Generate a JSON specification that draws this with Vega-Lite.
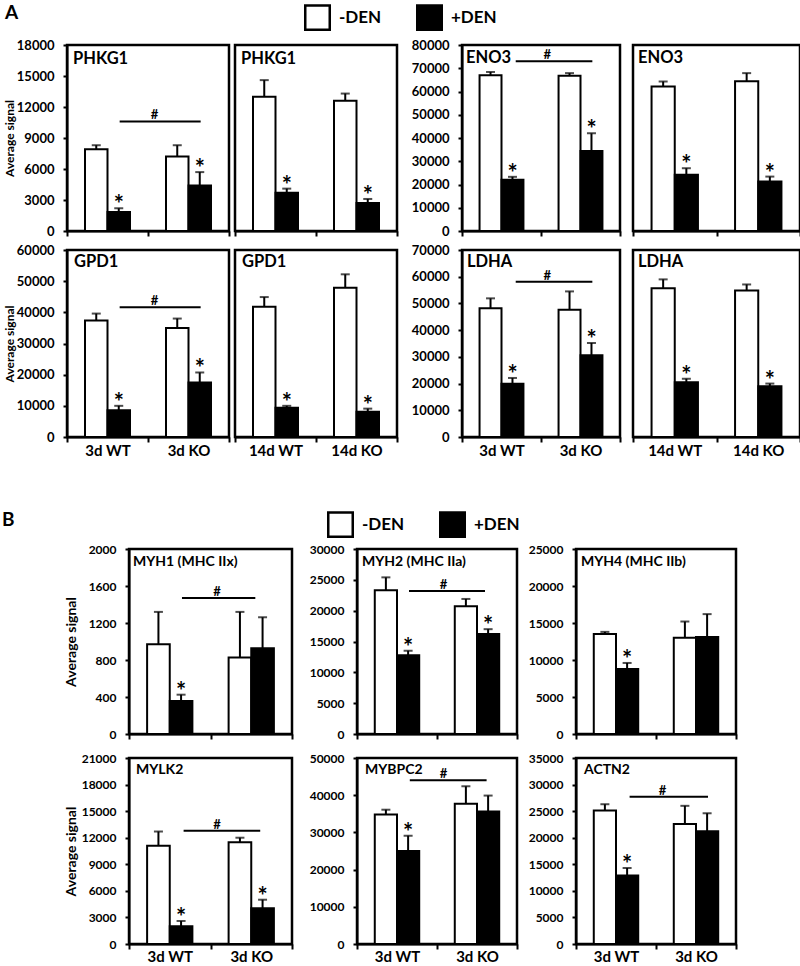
{
"$schema": "https://vega.github.io/schema/vega-lite/v6.json",
"padding": {"left": 2, "top": 2, "right": 0, "bottom": 0},
"background": "white",
"config": {
 "font": "Lato",
 "view": {"stroke": "black", "strokeWidth": 2.5},
 "axis": {"domainColor":"black","domainWidth":2,"tickColor":"black","tickWidth":2,"labelColor":"black","labelFontWeight":"bold","labelFont":"Lato","titleFont":"Lato","titleColor":"black","titleFontWeight":"bold","grid":false,"labelOverlap":false},
 "axisX": {"tickBand":"extent","labelAngle":0,"labelFontSize":15,"tickSize":5},
 "axisY": {"labelFontSize":13,"labelPadding":9,"tickSize":4,"labelOverlap":false},
 "legend": {"symbolType":"square","symbolSize":600,"symbolStrokeColor":"black","symbolStrokeWidth":2.5,"labelFont":"Lato","labelFontSize":17,"labelFontWeight":"bold","labelColor":"black","labelOffset":8,"columnPadding":30},
 "title": {"font":"Lato","fontSize":19,"fontWeight":"bold","color":"black"},
 "text": {"color":"black","font":"Lato"},
 "rule": {"color":"black"},
 "tick": {"color":"black"}
},
"datasets": {
"bars": [
{"p":"PHKG1_3d","g":"3d WT","d":"-DEN","m":7900,"hi":8300,"s":""},
{"p":"PHKG1_3d","g":"3d WT","d":"+DEN","m":1850,"hi":2200,"s":"*"},
{"p":"PHKG1_3d","g":"3d KO","d":"-DEN","m":7200,"hi":8300,"s":""},
{"p":"PHKG1_3d","g":"3d KO","d":"+DEN","m":4400,"hi":5700,"s":"*"},
{"p":"PHKG1_14d","g":"14d WT","d":"-DEN","m":13000,"hi":14600,"s":""},
{"p":"PHKG1_14d","g":"14d WT","d":"+DEN","m":3700,"hi":4100,"s":"*"},
{"p":"PHKG1_14d","g":"14d KO","d":"-DEN","m":12600,"hi":13300,"s":""},
{"p":"PHKG1_14d","g":"14d KO","d":"+DEN","m":2700,"hi":3100,"s":"*"},
{"p":"ENO3_3d","g":"3d WT","d":"-DEN","m":67000,"hi":68400,"s":""},
{"p":"ENO3_3d","g":"3d WT","d":"+DEN","m":22000,"hi":23300,"s":"*"},
{"p":"ENO3_3d","g":"3d KO","d":"-DEN","m":66800,"hi":67900,"s":""},
{"p":"ENO3_3d","g":"3d KO","d":"+DEN","m":34400,"hi":42000,"s":"*"},
{"p":"ENO3_14d","g":"14d WT","d":"-DEN","m":62100,"hi":64300,"s":""},
{"p":"ENO3_14d","g":"14d WT","d":"+DEN","m":24200,"hi":27000,"s":"*"},
{"p":"ENO3_14d","g":"14d KO","d":"-DEN","m":64400,"hi":67900,"s":""},
{"p":"ENO3_14d","g":"14d KO","d":"+DEN","m":21300,"hi":23400,"s":"*"},
{"p":"GPD1_3d","g":"3d WT","d":"-DEN","m":37400,"hi":39600,"s":""},
{"p":"GPD1_3d","g":"3d WT","d":"+DEN","m":8600,"hi":10000,"s":"*"},
{"p":"GPD1_3d","g":"3d KO","d":"-DEN","m":35000,"hi":38000,"s":""},
{"p":"GPD1_3d","g":"3d KO","d":"+DEN","m":17500,"hi":20700,"s":"*"},
{"p":"GPD1_14d","g":"14d WT","d":"-DEN","m":41800,"hi":44900,"s":""},
{"p":"GPD1_14d","g":"14d WT","d":"+DEN","m":9400,"hi":10000,"s":"*"},
{"p":"GPD1_14d","g":"14d KO","d":"-DEN","m":47900,"hi":52200,"s":""},
{"p":"GPD1_14d","g":"14d KO","d":"+DEN","m":8100,"hi":9100,"s":"*"},
{"p":"LDHA_3d","g":"3d WT","d":"-DEN","m":48200,"hi":51900,"s":""},
{"p":"LDHA_3d","g":"3d WT","d":"+DEN","m":19900,"hi":22100,"s":"*"},
{"p":"LDHA_3d","g":"3d KO","d":"-DEN","m":47600,"hi":54500,"s":""},
{"p":"LDHA_3d","g":"3d KO","d":"+DEN","m":30600,"hi":35200,"s":"*"},
{"p":"LDHA_14d","g":"14d WT","d":"-DEN","m":55700,"hi":59000,"s":""},
{"p":"LDHA_14d","g":"14d WT","d":"+DEN","m":20500,"hi":21800,"s":"*"},
{"p":"LDHA_14d","g":"14d KO","d":"-DEN","m":54800,"hi":57100,"s":""},
{"p":"LDHA_14d","g":"14d KO","d":"+DEN","m":19000,"hi":20000,"s":"*"},
{"p":"MYH1","g":"3d WT","d":"-DEN","m":970,"hi":1320,"s":""},
{"p":"MYH1","g":"3d WT","d":"+DEN","m":357,"hi":425,"s":"*"},
{"p":"MYH1","g":"3d KO","d":"-DEN","m":826,"hi":1320,"s":""},
{"p":"MYH1","g":"3d KO","d":"+DEN","m":927,"hi":1262,"s":""},
{"p":"MYH2","g":"3d WT","d":"-DEN","m":23300,"hi":25400,"s":""},
{"p":"MYH2","g":"3d WT","d":"+DEN","m":12760,"hi":13500,"s":"*"},
{"p":"MYH2","g":"3d KO","d":"-DEN","m":20700,"hi":21900,"s":""},
{"p":"MYH2","g":"3d KO","d":"+DEN","m":16200,"hi":17000,"s":"*"},
{"p":"MYH4","g":"3d WT","d":"-DEN","m":13500,"hi":13800,"s":""},
{"p":"MYH4","g":"3d WT","d":"+DEN","m":8770,"hi":9600,"s":"*"},
{"p":"MYH4","g":"3d KO","d":"-DEN","m":13000,"hi":15200,"s":""},
{"p":"MYH4","g":"3d KO","d":"+DEN","m":13100,"hi":16200,"s":""},
{"p":"MYLK2","g":"3d WT","d":"-DEN","m":11100,"hi":12700,"s":""},
{"p":"MYLK2","g":"3d WT","d":"+DEN","m":2000,"hi":2600,"s":"*"},
{"p":"MYLK2","g":"3d KO","d":"-DEN","m":11500,"hi":12000,"s":""},
{"p":"MYLK2","g":"3d KO","d":"+DEN","m":4050,"hi":5000,"s":"*"},
{"p":"MYBPC2","g":"3d WT","d":"-DEN","m":34800,"hi":36100,"s":""},
{"p":"MYBPC2","g":"3d WT","d":"+DEN","m":25000,"hi":29100,"s":"*"},
{"p":"MYBPC2","g":"3d KO","d":"-DEN","m":37700,"hi":42400,"s":""},
{"p":"MYBPC2","g":"3d KO","d":"+DEN","m":35600,"hi":39900,"s":""},
{"p":"ACTN2","g":"3d WT","d":"-DEN","m":25100,"hi":26300,"s":""},
{"p":"ACTN2","g":"3d WT","d":"+DEN","m":12900,"hi":14300,"s":"*"},
{"p":"ACTN2","g":"3d KO","d":"-DEN","m":22600,"hi":26000,"s":""},
{"p":"ACTN2","g":"3d KO","d":"+DEN","m":21200,"hi":24600,"s":""}
],
"hash": [
{"p":"PHKG1_3d","g":"3d WT","g2":"3d KO","m":10600},
{"p":"ENO3_3d","g":"3d WT","g2":"3d KO","m":73000},
{"p":"GPD1_3d","g":"3d WT","g2":"3d KO","m":41600},
{"p":"LDHA_3d","g":"3d WT","g2":"3d KO","m":58100},
{"p":"MYH1","g":"3d WT","g2":"3d KO","m":1470},
{"p":"MYH2","g":"3d WT","g2":"3d KO","m":23200},
{"p":"MYLK2","g":"3d WT","g2":"3d KO","m":12800},
{"p":"MYBPC2","g":"3d WT","g2":"3d KO","m":44000},
{"p":"ACTN2","g":"3d WT","g2":"3d KO","m":27700}
],
"labels": [
{"p":"PHKG1_3d","g":"3d WT","m":18000,"name":"PHKG1"},
{"p":"PHKG1_14d","g":"14d WT","m":18000,"name":"PHKG1"},
{"p":"ENO3_3d","g":"3d WT","m":80000,"name":"ENO3"},
{"p":"ENO3_14d","g":"14d WT","m":80000,"name":"ENO3"},
{"p":"GPD1_3d","g":"3d WT","m":60000,"name":"GPD1"},
{"p":"GPD1_14d","g":"14d WT","m":60000,"name":"GPD1"},
{"p":"LDHA_3d","g":"3d WT","m":70000,"name":"LDHA"},
{"p":"LDHA_14d","g":"14d WT","m":70000,"name":"LDHA"},
{"p":"MYH1","g":"3d WT","m":2000,"name":"MYH1 (MHC IIx)"},
{"p":"MYH2","g":"3d WT","m":30000,"name":"MYH2 (MHC IIa)"},
{"p":"MYH4","g":"3d WT","m":25000,"name":"MYH4 (MHC IIb)"},
{"p":"MYLK2","g":"3d WT","m":21000,"name":"MYLK2"},
{"p":"MYBPC2","g":"3d WT","m":50000,"name":"MYBPC2"},
{"p":"ACTN2","g":"3d WT","m":35000,"name":"ACTN2"}
]
},
"spacing": 49,
"resolve": {"scale": {"fill": "independent", "xOffset": "independent"}},
"vconcat": [
{
"title": {"text": "A", "anchor": "start", "frame": "group", "dx": -62, "offset": -20},
"spacing": 2,
"resolve": {"scale": {"fill": "independent", "xOffset": "independent"}},
"vconcat": [
{
"spacing": 6, "bounds": "flush",
"resolve": {"scale": {"fill": "independent", "xOffset": "independent"}},
"hconcat": [
{
 "width": 162, "height": 186,
 "layer": [
  {"data":{"name":"bars"},"transform":[{"filter":"datum.p=='PHKG1_3d'"}],"mark":{"type":"bar","stroke":"black","strokeWidth":2},"encoding":{"x":{"field":"g","type":"nominal","scale":{"domain":["3d WT","3d KO"],"paddingInner":0,"paddingOuter":0},"axis":{"title":null,"labels":false}},"xOffset":{"field":"d","type":"nominal","scale":{"domain":["-DEN","+DEN"],"paddingInner":0,"paddingOuter":0.8}},"y":{"field":"m","type":"quantitative","scale":{"domain":[0,18000],"nice":false},"axis":{"title":"Average signal","titleFontSize":12,"titlePadding":0,"labelOverlap":false,"tickCount":20,"values":[0,3000,6000,9000,12000,15000,18000],"format":"d"}},"fill":{"field":"d","type":"nominal","scale":{"domain":["-DEN","+DEN"],"range":["white","black"]},"legend":null}}},
  {"data":{"name":"bars"},"transform":[{"filter":"datum.p=='PHKG1_3d'"}],"mark":{"type":"rule","strokeWidth":2},"encoding":{"x":{"field":"g","type":"nominal"},"xOffset":{"field":"d","type":"nominal"},"y":{"field":"m","type":"quantitative"},"y2":{"field":"hi"}}},
  {"data":{"name":"bars"},"transform":[{"filter":"datum.p=='PHKG1_3d'"}],"mark":{"type":"tick","size":9,"thickness":2},"encoding":{"x":{"field":"g","type":"nominal"},"xOffset":{"field":"d","type":"nominal"},"y":{"field":"hi","type":"quantitative"}}},
  {"data":{"name":"bars"},"transform":[{"filter":"datum.p=='PHKG1_3d' && datum.s=='*'"}],"mark":{"type":"text","text":"*","fontSize":24,"fontWeight":"bold","baseline":"alphabetic","dy":5},"encoding":{"x":{"field":"g","type":"nominal"},"xOffset":{"field":"d","type":"nominal"},"y":{"field":"hi","type":"quantitative"}}},
  {"data":{"name":"hash"},"transform":[{"filter":"datum.p=='PHKG1_3d'"}],"mark":{"type":"rule","strokeWidth":2},"encoding":{"x":{"field":"g","type":"nominal","bandPosition":0.65},"x2":{"field":"g2","bandPosition":0.65},"y":{"field":"m","type":"quantitative"}}},
  {"data":{"name":"hash"},"transform":[{"filter":"datum.p=='PHKG1_3d'"}],"mark":{"type":"text","text":"#","fontSize":13,"fontWeight":"bold","baseline":"alphabetic","dy":-2},"encoding":{"x":{"field":"g2","type":"nominal","bandPosition":0.08},"y":{"field":"m","type":"quantitative"}}},
  {"data":{"name":"labels"},"transform":[{"filter":"datum.p=='PHKG1_3d'"}],"mark":{"type":"text","align":"left","baseline":"top","fontSize":16.5,"fontWeight":"bold","dx":6,"dy":6},"encoding":{"x":{"field":"g","type":"nominal","bandPosition":0},"y":{"field":"m","type":"quantitative"},"text":{"field":"name"}}}
 ]
},
{
 "width": 162, "height": 186,
 "layer": [
  {"data":{"name":"bars"},"transform":[{"filter":"datum.p=='PHKG1_14d'"}],"mark":{"type":"bar","stroke":"black","strokeWidth":2},"encoding":{"x":{"field":"g","type":"nominal","scale":{"domain":["14d WT","14d KO"],"paddingInner":0,"paddingOuter":0},"axis":{"title":null,"labels":false}},"xOffset":{"field":"d","type":"nominal","scale":{"domain":["-DEN","+DEN"],"paddingInner":0,"paddingOuter":0.8}},"y":{"field":"m","type":"quantitative","scale":{"domain":[0,18000],"nice":false},"axis":null},"fill":{"field":"d","type":"nominal","scale":{"domain":["-DEN","+DEN"],"range":["white","black"]},"legend":null}}},
  {"data":{"name":"bars"},"transform":[{"filter":"datum.p=='PHKG1_14d'"}],"mark":{"type":"rule","strokeWidth":2},"encoding":{"x":{"field":"g","type":"nominal"},"xOffset":{"field":"d","type":"nominal"},"y":{"field":"m","type":"quantitative"},"y2":{"field":"hi"}}},
  {"data":{"name":"bars"},"transform":[{"filter":"datum.p=='PHKG1_14d'"}],"mark":{"type":"tick","size":9,"thickness":2},"encoding":{"x":{"field":"g","type":"nominal"},"xOffset":{"field":"d","type":"nominal"},"y":{"field":"hi","type":"quantitative"}}},
  {"data":{"name":"bars"},"transform":[{"filter":"datum.p=='PHKG1_14d' && datum.s=='*'"}],"mark":{"type":"text","text":"*","fontSize":24,"fontWeight":"bold","baseline":"alphabetic","dy":5},"encoding":{"x":{"field":"g","type":"nominal"},"xOffset":{"field":"d","type":"nominal"},"y":{"field":"hi","type":"quantitative"}}},
  {"data":{"name":"labels"},"transform":[{"filter":"datum.p=='PHKG1_14d'"}],"mark":{"type":"text","align":"left","baseline":"top","fontSize":16.5,"fontWeight":"bold","dx":6,"dy":6},"encoding":{"x":{"field":"g","type":"nominal","bandPosition":0},"y":{"field":"m","type":"quantitative"},"text":{"field":"name"}}}
 ]
},
{"width":53,"height":10,"data":{"values":[{}]},"mark":{"type":"point","opacity":0},"encoding":{},"view":{"stroke":null}},
{
 "width": 158, "height": 186,
 "layer": [
  {"data":{"name":"bars"},"transform":[{"filter":"datum.p=='ENO3_3d'"}],"mark":{"type":"bar","stroke":"black","strokeWidth":2},"encoding":{"x":{"field":"g","type":"nominal","scale":{"domain":["3d WT","3d KO"],"paddingInner":0,"paddingOuter":0},"axis":{"title":null,"labels":false}},"xOffset":{"field":"d","type":"nominal","scale":{"domain":["-DEN","+DEN"],"paddingInner":0,"paddingOuter":0.8}},"y":{"field":"m","type":"quantitative","scale":{"domain":[0,80000],"nice":false},"axis":{"title":null,"labelOverlap":false,"tickCount":20,"values":[0,10000,20000,30000,40000,50000,60000,70000,80000],"format":"d"}},"fill":{"field":"d","type":"nominal","scale":{"domain":["-DEN","+DEN"],"range":["white","black"]},"legend":{"title":null,"orient":"none","direction":"horizontal","legendX":-158,"legendY":-41}}}},
  {"data":{"name":"bars"},"transform":[{"filter":"datum.p=='ENO3_3d'"}],"mark":{"type":"rule","strokeWidth":2},"encoding":{"x":{"field":"g","type":"nominal"},"xOffset":{"field":"d","type":"nominal"},"y":{"field":"m","type":"quantitative"},"y2":{"field":"hi"}}},
  {"data":{"name":"bars"},"transform":[{"filter":"datum.p=='ENO3_3d'"}],"mark":{"type":"tick","size":9,"thickness":2},"encoding":{"x":{"field":"g","type":"nominal"},"xOffset":{"field":"d","type":"nominal"},"y":{"field":"hi","type":"quantitative"}}},
  {"data":{"name":"bars"},"transform":[{"filter":"datum.p=='ENO3_3d' && datum.s=='*'"}],"mark":{"type":"text","text":"*","fontSize":24,"fontWeight":"bold","baseline":"alphabetic","dy":5},"encoding":{"x":{"field":"g","type":"nominal"},"xOffset":{"field":"d","type":"nominal"},"y":{"field":"hi","type":"quantitative"}}},
  {"data":{"name":"hash"},"transform":[{"filter":"datum.p=='ENO3_3d'"}],"mark":{"type":"rule","strokeWidth":2},"encoding":{"x":{"field":"g","type":"nominal","bandPosition":0.68},"x2":{"field":"g2","bandPosition":0.65},"y":{"field":"m","type":"quantitative"}}},
  {"data":{"name":"hash"},"transform":[{"filter":"datum.p=='ENO3_3d'"}],"mark":{"type":"text","text":"#","fontSize":13,"fontWeight":"bold","baseline":"alphabetic","dy":-2},"encoding":{"x":{"field":"g2","type":"nominal","bandPosition":0.08},"y":{"field":"m","type":"quantitative"}}},
  {"data":{"name":"labels"},"transform":[{"filter":"datum.p=='ENO3_3d'"}],"mark":{"type":"text","align":"left","baseline":"top","fontSize":16.5,"fontWeight":"bold","dx":4,"dy":5},"encoding":{"x":{"field":"g","type":"nominal","bandPosition":0},"y":{"field":"m","type":"quantitative"},"text":{"field":"name"}}}
 ]
},
{"width":1,"height":10,"data":{"values":[{}]},"mark":{"type":"point","opacity":0},"encoding":{},"view":{"stroke":null}},
{
 "width": 167, "height": 186,
 "layer": [
  {"data":{"name":"bars"},"transform":[{"filter":"datum.p=='ENO3_14d'"}],"mark":{"type":"bar","stroke":"black","strokeWidth":2},"encoding":{"x":{"field":"g","type":"nominal","scale":{"domain":["14d WT","14d KO"],"paddingInner":0,"paddingOuter":0},"axis":{"title":null,"labels":false}},"xOffset":{"field":"d","type":"nominal","scale":{"domain":["-DEN","+DEN"],"paddingInner":0,"paddingOuter":0.8}},"y":{"field":"m","type":"quantitative","scale":{"domain":[0,80000],"nice":false},"axis":null},"fill":{"field":"d","type":"nominal","scale":{"domain":["-DEN","+DEN"],"range":["white","black"]},"legend":null}}},
  {"data":{"name":"bars"},"transform":[{"filter":"datum.p=='ENO3_14d'"}],"mark":{"type":"rule","strokeWidth":2},"encoding":{"x":{"field":"g","type":"nominal"},"xOffset":{"field":"d","type":"nominal"},"y":{"field":"m","type":"quantitative"},"y2":{"field":"hi"}}},
  {"data":{"name":"bars"},"transform":[{"filter":"datum.p=='ENO3_14d'"}],"mark":{"type":"tick","size":9,"thickness":2},"encoding":{"x":{"field":"g","type":"nominal"},"xOffset":{"field":"d","type":"nominal"},"y":{"field":"hi","type":"quantitative"}}},
  {"data":{"name":"bars"},"transform":[{"filter":"datum.p=='ENO3_14d' && datum.s=='*'"}],"mark":{"type":"text","text":"*","fontSize":24,"fontWeight":"bold","baseline":"alphabetic","dy":5},"encoding":{"x":{"field":"g","type":"nominal"},"xOffset":{"field":"d","type":"nominal"},"y":{"field":"hi","type":"quantitative"}}},
  {"data":{"name":"labels"},"transform":[{"filter":"datum.p=='ENO3_14d'"}],"mark":{"type":"text","align":"left","baseline":"top","fontSize":16.5,"fontWeight":"bold","dx":5,"dy":5},"encoding":{"x":{"field":"g","type":"nominal","bandPosition":0},"y":{"field":"m","type":"quantitative"},"text":{"field":"name"}}}
 ]
}
]
},
{
"spacing": 6, "bounds": "flush",
"resolve": {"scale": {"fill": "independent", "xOffset": "independent"}},
"hconcat": [
{
 "width": 162, "height": 187,
 "layer": [
  {"data":{"name":"bars"},"transform":[{"filter":"datum.p=='GPD1_3d'"}],"mark":{"type":"bar","stroke":"black","strokeWidth":2},"encoding":{"x":{"field":"g","type":"nominal","scale":{"domain":["3d WT","3d KO"],"paddingInner":0,"paddingOuter":0},"axis":{"title":null,"labelPadding":1}},"xOffset":{"field":"d","type":"nominal","scale":{"domain":["-DEN","+DEN"],"paddingInner":0,"paddingOuter":0.8}},"y":{"field":"m","type":"quantitative","scale":{"domain":[0,60000],"nice":false},"axis":{"title":"Average signal","titleFontSize":12,"titlePadding":0,"labelOverlap":false,"tickCount":20,"values":[0,10000,20000,30000,40000,50000,60000],"format":"d"}},"fill":{"field":"d","type":"nominal","scale":{"domain":["-DEN","+DEN"],"range":["white","black"]},"legend":null}}},
  {"data":{"name":"bars"},"transform":[{"filter":"datum.p=='GPD1_3d'"}],"mark":{"type":"rule","strokeWidth":2},"encoding":{"x":{"field":"g","type":"nominal"},"xOffset":{"field":"d","type":"nominal"},"y":{"field":"m","type":"quantitative"},"y2":{"field":"hi"}}},
  {"data":{"name":"bars"},"transform":[{"filter":"datum.p=='GPD1_3d'"}],"mark":{"type":"tick","size":9,"thickness":2},"encoding":{"x":{"field":"g","type":"nominal"},"xOffset":{"field":"d","type":"nominal"},"y":{"field":"hi","type":"quantitative"}}},
  {"data":{"name":"bars"},"transform":[{"filter":"datum.p=='GPD1_3d' && datum.s=='*'"}],"mark":{"type":"text","text":"*","fontSize":24,"fontWeight":"bold","baseline":"alphabetic","dy":5},"encoding":{"x":{"field":"g","type":"nominal"},"xOffset":{"field":"d","type":"nominal"},"y":{"field":"hi","type":"quantitative"}}},
  {"data":{"name":"hash"},"transform":[{"filter":"datum.p=='GPD1_3d'"}],"mark":{"type":"rule","strokeWidth":2},"encoding":{"x":{"field":"g","type":"nominal","bandPosition":0.65},"x2":{"field":"g2","bandPosition":0.65},"y":{"field":"m","type":"quantitative"}}},
  {"data":{"name":"hash"},"transform":[{"filter":"datum.p=='GPD1_3d'"}],"mark":{"type":"text","text":"#","fontSize":13,"fontWeight":"bold","baseline":"alphabetic","dy":-2},"encoding":{"x":{"field":"g2","type":"nominal","bandPosition":0.08},"y":{"field":"m","type":"quantitative"}}},
  {"data":{"name":"labels"},"transform":[{"filter":"datum.p=='GPD1_3d'"}],"mark":{"type":"text","align":"left","baseline":"top","fontSize":16.5,"fontWeight":"bold","dx":7,"dy":4},"encoding":{"x":{"field":"g","type":"nominal","bandPosition":0},"y":{"field":"m","type":"quantitative"},"text":{"field":"name"}}}
 ]
},
{
 "width": 162, "height": 187,
 "layer": [
  {"data":{"name":"bars"},"transform":[{"filter":"datum.p=='GPD1_14d'"}],"mark":{"type":"bar","stroke":"black","strokeWidth":2},"encoding":{"x":{"field":"g","type":"nominal","scale":{"domain":["14d WT","14d KO"],"paddingInner":0,"paddingOuter":0},"axis":{"title":null,"labelPadding":1}},"xOffset":{"field":"d","type":"nominal","scale":{"domain":["-DEN","+DEN"],"paddingInner":0,"paddingOuter":0.8}},"y":{"field":"m","type":"quantitative","scale":{"domain":[0,60000],"nice":false},"axis":null},"fill":{"field":"d","type":"nominal","scale":{"domain":["-DEN","+DEN"],"range":["white","black"]},"legend":null}}},
  {"data":{"name":"bars"},"transform":[{"filter":"datum.p=='GPD1_14d'"}],"mark":{"type":"rule","strokeWidth":2},"encoding":{"x":{"field":"g","type":"nominal"},"xOffset":{"field":"d","type":"nominal"},"y":{"field":"m","type":"quantitative"},"y2":{"field":"hi"}}},
  {"data":{"name":"bars"},"transform":[{"filter":"datum.p=='GPD1_14d'"}],"mark":{"type":"tick","size":9,"thickness":2},"encoding":{"x":{"field":"g","type":"nominal"},"xOffset":{"field":"d","type":"nominal"},"y":{"field":"hi","type":"quantitative"}}},
  {"data":{"name":"bars"},"transform":[{"filter":"datum.p=='GPD1_14d' && datum.s=='*'"}],"mark":{"type":"text","text":"*","fontSize":24,"fontWeight":"bold","baseline":"alphabetic","dy":5},"encoding":{"x":{"field":"g","type":"nominal"},"xOffset":{"field":"d","type":"nominal"},"y":{"field":"hi","type":"quantitative"}}},
  {"data":{"name":"labels"},"transform":[{"filter":"datum.p=='GPD1_14d'"}],"mark":{"type":"text","align":"left","baseline":"top","fontSize":16.5,"fontWeight":"bold","dx":7,"dy":4},"encoding":{"x":{"field":"g","type":"nominal","bandPosition":0},"y":{"field":"m","type":"quantitative"},"text":{"field":"name"}}}
 ]
},
{"width":53,"height":10,"data":{"values":[{}]},"mark":{"type":"point","opacity":0},"encoding":{},"view":{"stroke":null}},
{
 "width": 158, "height": 187,
 "layer": [
  {"data":{"name":"bars"},"transform":[{"filter":"datum.p=='LDHA_3d'"}],"mark":{"type":"bar","stroke":"black","strokeWidth":2},"encoding":{"x":{"field":"g","type":"nominal","scale":{"domain":["3d WT","3d KO"],"paddingInner":0,"paddingOuter":0},"axis":{"title":null,"labelPadding":1}},"xOffset":{"field":"d","type":"nominal","scale":{"domain":["-DEN","+DEN"],"paddingInner":0,"paddingOuter":0.8}},"y":{"field":"m","type":"quantitative","scale":{"domain":[0,70000],"nice":false},"axis":{"title":null,"labelOverlap":false,"tickCount":20,"values":[0,10000,20000,30000,40000,50000,60000,70000],"format":"d"}},"fill":{"field":"d","type":"nominal","scale":{"domain":["-DEN","+DEN"],"range":["white","black"]},"legend":null}}},
  {"data":{"name":"bars"},"transform":[{"filter":"datum.p=='LDHA_3d'"}],"mark":{"type":"rule","strokeWidth":2},"encoding":{"x":{"field":"g","type":"nominal"},"xOffset":{"field":"d","type":"nominal"},"y":{"field":"m","type":"quantitative"},"y2":{"field":"hi"}}},
  {"data":{"name":"bars"},"transform":[{"filter":"datum.p=='LDHA_3d'"}],"mark":{"type":"tick","size":9,"thickness":2},"encoding":{"x":{"field":"g","type":"nominal"},"xOffset":{"field":"d","type":"nominal"},"y":{"field":"hi","type":"quantitative"}}},
  {"data":{"name":"bars"},"transform":[{"filter":"datum.p=='LDHA_3d' && datum.s=='*'"}],"mark":{"type":"text","text":"*","fontSize":24,"fontWeight":"bold","baseline":"alphabetic","dy":5},"encoding":{"x":{"field":"g","type":"nominal"},"xOffset":{"field":"d","type":"nominal"},"y":{"field":"hi","type":"quantitative"}}},
  {"data":{"name":"hash"},"transform":[{"filter":"datum.p=='LDHA_3d'"}],"mark":{"type":"rule","strokeWidth":2},"encoding":{"x":{"field":"g","type":"nominal","bandPosition":0.68},"x2":{"field":"g2","bandPosition":0.65},"y":{"field":"m","type":"quantitative"}}},
  {"data":{"name":"hash"},"transform":[{"filter":"datum.p=='LDHA_3d'"}],"mark":{"type":"text","text":"#","fontSize":13,"fontWeight":"bold","baseline":"alphabetic","dy":-2},"encoding":{"x":{"field":"g2","type":"nominal","bandPosition":0.08},"y":{"field":"m","type":"quantitative"}}},
  {"data":{"name":"labels"},"transform":[{"filter":"datum.p=='LDHA_3d'"}],"mark":{"type":"text","align":"left","baseline":"top","fontSize":16.5,"fontWeight":"bold","dx":5,"dy":4},"encoding":{"x":{"field":"g","type":"nominal","bandPosition":0},"y":{"field":"m","type":"quantitative"},"text":{"field":"name"}}}
 ]
},
{"width":1,"height":10,"data":{"values":[{}]},"mark":{"type":"point","opacity":0},"encoding":{},"view":{"stroke":null}},
{
 "width": 167, "height": 187,
 "layer": [
  {"data":{"name":"bars"},"transform":[{"filter":"datum.p=='LDHA_14d'"}],"mark":{"type":"bar","stroke":"black","strokeWidth":2},"encoding":{"x":{"field":"g","type":"nominal","scale":{"domain":["14d WT","14d KO"],"paddingInner":0,"paddingOuter":0},"axis":{"title":null,"labelPadding":1}},"xOffset":{"field":"d","type":"nominal","scale":{"domain":["-DEN","+DEN"],"paddingInner":0,"paddingOuter":0.8}},"y":{"field":"m","type":"quantitative","scale":{"domain":[0,70000],"nice":false},"axis":null},"fill":{"field":"d","type":"nominal","scale":{"domain":["-DEN","+DEN"],"range":["white","black"]},"legend":null}}},
  {"data":{"name":"bars"},"transform":[{"filter":"datum.p=='LDHA_14d'"}],"mark":{"type":"rule","strokeWidth":2},"encoding":{"x":{"field":"g","type":"nominal"},"xOffset":{"field":"d","type":"nominal"},"y":{"field":"m","type":"quantitative"},"y2":{"field":"hi"}}},
  {"data":{"name":"bars"},"transform":[{"filter":"datum.p=='LDHA_14d'"}],"mark":{"type":"tick","size":9,"thickness":2},"encoding":{"x":{"field":"g","type":"nominal"},"xOffset":{"field":"d","type":"nominal"},"y":{"field":"hi","type":"quantitative"}}},
  {"data":{"name":"bars"},"transform":[{"filter":"datum.p=='LDHA_14d' && datum.s=='*'"}],"mark":{"type":"text","text":"*","fontSize":24,"fontWeight":"bold","baseline":"alphabetic","dy":5},"encoding":{"x":{"field":"g","type":"nominal"},"xOffset":{"field":"d","type":"nominal"},"y":{"field":"hi","type":"quantitative"}}},
  {"data":{"name":"labels"},"transform":[{"filter":"datum.p=='LDHA_14d'"}],"mark":{"type":"text","align":"left","baseline":"top","fontSize":16.5,"fontWeight":"bold","dx":5,"dy":4},"encoding":{"x":{"field":"g","type":"nominal","bandPosition":0},"y":{"field":"m","type":"quantitative"},"text":{"field":"name"}}}
 ]
}
]
}
]
},
{
"title": {"text": "B", "anchor": "start", "frame": "group", "dx": -65, "offset": -20},
"spacing": 8,
"resolve": {"scale": {"fill": "independent", "xOffset": "independent"}},
"vconcat": [
{
"spacing": 6, "bounds": "flush",
"resolve": {"scale": {"fill": "independent", "xOffset": "independent"}},
"hconcat": [
{"width":56,"height":10,"data":{"values":[{}]},"mark":{"type":"point","opacity":0},"encoding":{},"view":{"stroke":null}},
{
 "width": 163, "height": 185,
 "layer": [
  {"data":{"name":"bars"},"transform":[{"filter":"datum.p=='MYH1'"}],"mark":{"type":"bar","stroke":"black","strokeWidth":2},"encoding":{"x":{"field":"g","type":"nominal","scale":{"domain":["3d WT","3d KO"],"paddingInner":0,"paddingOuter":0},"axis":{"title":null,"labels":false}},"xOffset":{"field":"d","type":"nominal","scale":{"domain":["-DEN","+DEN"],"paddingInner":0,"paddingOuter":0.8}},"y":{"field":"m","type":"quantitative","scale":{"domain":[0,2000],"nice":false},"axis":{"title":"Average signal","titleFontSize":14,"titlePadding":10,"labelFontSize":12,"labelOverlap":false,"tickCount":20,"values":[0,400,800,1200,1600,2000],"format":"d"}},"fill":{"field":"d","type":"nominal","scale":{"domain":["-DEN","+DEN"],"range":["white","black"]},"legend":null}}},
  {"data":{"name":"bars"},"transform":[{"filter":"datum.p=='MYH1'"}],"mark":{"type":"rule","strokeWidth":2},"encoding":{"x":{"field":"g","type":"nominal"},"xOffset":{"field":"d","type":"nominal"},"y":{"field":"m","type":"quantitative"},"y2":{"field":"hi"}}},
  {"data":{"name":"bars"},"transform":[{"filter":"datum.p=='MYH1'"}],"mark":{"type":"tick","size":9,"thickness":2},"encoding":{"x":{"field":"g","type":"nominal"},"xOffset":{"field":"d","type":"nominal"},"y":{"field":"hi","type":"quantitative"}}},
  {"data":{"name":"bars"},"transform":[{"filter":"datum.p=='MYH1' && datum.s=='*'"}],"mark":{"type":"text","text":"*","fontSize":24,"fontWeight":"bold","baseline":"alphabetic","dy":5},"encoding":{"x":{"field":"g","type":"nominal"},"xOffset":{"field":"d","type":"nominal"},"y":{"field":"hi","type":"quantitative"}}},
  {"data":{"name":"hash"},"transform":[{"filter":"datum.p=='MYH1'"}],"mark":{"type":"rule","strokeWidth":2},"encoding":{"x":{"field":"g","type":"nominal","bandPosition":0.65},"x2":{"field":"g2","bandPosition":0.55},"y":{"field":"m","type":"quantitative"}}},
  {"data":{"name":"hash"},"transform":[{"filter":"datum.p=='MYH1'"}],"mark":{"type":"text","text":"#","fontSize":13,"fontWeight":"bold","baseline":"alphabetic","dy":-2},"encoding":{"x":{"field":"g2","type":"nominal","bandPosition":0.08},"y":{"field":"m","type":"quantitative"}}},
  {"data":{"name":"labels"},"transform":[{"filter":"datum.p=='MYH1'"}],"mark":{"type":"text","align":"left","baseline":"top","fontSize":14,"fontWeight":"bold","dx":4,"dy":6},"encoding":{"x":{"field":"g","type":"nominal","bandPosition":0},"y":{"field":"m","type":"quantitative"},"text":{"field":"name"}}}
 ]
},
{"width":53,"height":10,"data":{"values":[{}]},"mark":{"type":"point","opacity":0},"encoding":{},"view":{"stroke":null}},
{
 "width": 160, "height": 185,
 "layer": [
  {"data":{"name":"bars"},"transform":[{"filter":"datum.p=='MYH2'"}],"mark":{"type":"bar","stroke":"black","strokeWidth":2},"encoding":{"x":{"field":"g","type":"nominal","scale":{"domain":["3d WT","3d KO"],"paddingInner":0,"paddingOuter":0},"axis":{"title":null,"labels":false}},"xOffset":{"field":"d","type":"nominal","scale":{"domain":["-DEN","+DEN"],"paddingInner":0,"paddingOuter":0.8}},"y":{"field":"m","type":"quantitative","scale":{"domain":[0,30000],"nice":false},"axis":{"title":null,"labelFontSize":12,"labelOverlap":false,"tickCount":20,"values":[0,5000,10000,15000,20000,25000,30000],"format":"d"}},"fill":{"field":"d","type":"nominal","scale":{"domain":["-DEN","+DEN"],"range":["white","black"]},"legend":{"title":null,"orient":"none","direction":"horizontal","legendX":-30,"legendY":-38}}}},
  {"data":{"name":"bars"},"transform":[{"filter":"datum.p=='MYH2'"}],"mark":{"type":"rule","strokeWidth":2},"encoding":{"x":{"field":"g","type":"nominal"},"xOffset":{"field":"d","type":"nominal"},"y":{"field":"m","type":"quantitative"},"y2":{"field":"hi"}}},
  {"data":{"name":"bars"},"transform":[{"filter":"datum.p=='MYH2'"}],"mark":{"type":"tick","size":9,"thickness":2},"encoding":{"x":{"field":"g","type":"nominal"},"xOffset":{"field":"d","type":"nominal"},"y":{"field":"hi","type":"quantitative"}}},
  {"data":{"name":"bars"},"transform":[{"filter":"datum.p=='MYH2' && datum.s=='*'"}],"mark":{"type":"text","text":"*","fontSize":24,"fontWeight":"bold","baseline":"alphabetic","dy":5},"encoding":{"x":{"field":"g","type":"nominal"},"xOffset":{"field":"d","type":"nominal"},"y":{"field":"hi","type":"quantitative"}}},
  {"data":{"name":"hash"},"transform":[{"filter":"datum.p=='MYH2'"}],"mark":{"type":"rule","strokeWidth":2},"encoding":{"x":{"field":"g","type":"nominal","bandPosition":0.65},"x2":{"field":"g2","bandPosition":0.6},"y":{"field":"m","type":"quantitative"}}},
  {"data":{"name":"hash"},"transform":[{"filter":"datum.p=='MYH2'"}],"mark":{"type":"text","text":"#","fontSize":13,"fontWeight":"bold","baseline":"alphabetic","dy":-2},"encoding":{"x":{"field":"g2","type":"nominal","bandPosition":0.08},"y":{"field":"m","type":"quantitative"}}},
  {"data":{"name":"labels"},"transform":[{"filter":"datum.p=='MYH2'"}],"mark":{"type":"text","align":"left","baseline":"top","fontSize":14,"fontWeight":"bold","dx":5,"dy":6},"encoding":{"x":{"field":"g","type":"nominal","bandPosition":0},"y":{"field":"m","type":"quantitative"},"text":{"field":"name"}}}
 ]
},
{"width":47,"height":10,"data":{"values":[{}]},"mark":{"type":"point","opacity":0},"encoding":{},"view":{"stroke":null}},
{
 "width": 160, "height": 185,
 "layer": [
  {"data":{"name":"bars"},"transform":[{"filter":"datum.p=='MYH4'"}],"mark":{"type":"bar","stroke":"black","strokeWidth":2},"encoding":{"x":{"field":"g","type":"nominal","scale":{"domain":["3d WT","3d KO"],"paddingInner":0,"paddingOuter":0},"axis":{"title":null,"labels":false}},"xOffset":{"field":"d","type":"nominal","scale":{"domain":["-DEN","+DEN"],"paddingInner":0,"paddingOuter":0.8}},"y":{"field":"m","type":"quantitative","scale":{"domain":[0,25000],"nice":false},"axis":{"title":null,"labelFontSize":12,"labelOverlap":false,"tickCount":20,"values":[0,5000,10000,15000,20000,25000],"format":"d"}},"fill":{"field":"d","type":"nominal","scale":{"domain":["-DEN","+DEN"],"range":["white","black"]},"legend":null}}},
  {"data":{"name":"bars"},"transform":[{"filter":"datum.p=='MYH4'"}],"mark":{"type":"rule","strokeWidth":2},"encoding":{"x":{"field":"g","type":"nominal"},"xOffset":{"field":"d","type":"nominal"},"y":{"field":"m","type":"quantitative"},"y2":{"field":"hi"}}},
  {"data":{"name":"bars"},"transform":[{"filter":"datum.p=='MYH4'"}],"mark":{"type":"tick","size":9,"thickness":2},"encoding":{"x":{"field":"g","type":"nominal"},"xOffset":{"field":"d","type":"nominal"},"y":{"field":"hi","type":"quantitative"}}},
  {"data":{"name":"bars"},"transform":[{"filter":"datum.p=='MYH4' && datum.s=='*'"}],"mark":{"type":"text","text":"*","fontSize":24,"fontWeight":"bold","baseline":"alphabetic","dy":5},"encoding":{"x":{"field":"g","type":"nominal"},"xOffset":{"field":"d","type":"nominal"},"y":{"field":"hi","type":"quantitative"}}},
  {"data":{"name":"labels"},"transform":[{"filter":"datum.p=='MYH4'"}],"mark":{"type":"text","align":"left","baseline":"top","fontSize":14,"fontWeight":"bold","dx":5,"dy":6},"encoding":{"x":{"field":"g","type":"nominal","bandPosition":0},"y":{"field":"m","type":"quantitative"},"text":{"field":"name"}}}
 ]
}
]
},
{
"spacing": 6, "bounds": "flush",
"resolve": {"scale": {"fill": "independent", "xOffset": "independent"}},
"hconcat": [
{"width":56,"height":10,"data":{"values":[{}]},"mark":{"type":"point","opacity":0},"encoding":{},"view":{"stroke":null}},
{
 "width": 163, "height": 186,
 "layer": [
  {"data":{"name":"bars"},"transform":[{"filter":"datum.p=='MYLK2'"}],"mark":{"type":"bar","stroke":"black","strokeWidth":2},"encoding":{"x":{"field":"g","type":"nominal","scale":{"domain":["3d WT","3d KO"],"paddingInner":0,"paddingOuter":0},"axis":{"title":null,"labelPadding":0}},"xOffset":{"field":"d","type":"nominal","scale":{"domain":["-DEN","+DEN"],"paddingInner":0,"paddingOuter":0.8}},"y":{"field":"m","type":"quantitative","scale":{"domain":[0,21000],"nice":false},"axis":{"title":"Average signal","titleFontSize":14,"titlePadding":3,"labelFontSize":12,"labelOverlap":false,"tickCount":20,"values":[0,3000,6000,9000,12000,15000,18000,21000],"format":"d"}},"fill":{"field":"d","type":"nominal","scale":{"domain":["-DEN","+DEN"],"range":["white","black"]},"legend":null}}},
  {"data":{"name":"bars"},"transform":[{"filter":"datum.p=='MYLK2'"}],"mark":{"type":"rule","strokeWidth":2},"encoding":{"x":{"field":"g","type":"nominal"},"xOffset":{"field":"d","type":"nominal"},"y":{"field":"m","type":"quantitative"},"y2":{"field":"hi"}}},
  {"data":{"name":"bars"},"transform":[{"filter":"datum.p=='MYLK2'"}],"mark":{"type":"tick","size":9,"thickness":2},"encoding":{"x":{"field":"g","type":"nominal"},"xOffset":{"field":"d","type":"nominal"},"y":{"field":"hi","type":"quantitative"}}},
  {"data":{"name":"bars"},"transform":[{"filter":"datum.p=='MYLK2' && datum.s=='*'"}],"mark":{"type":"text","text":"*","fontSize":24,"fontWeight":"bold","baseline":"alphabetic","dy":5},"encoding":{"x":{"field":"g","type":"nominal"},"xOffset":{"field":"d","type":"nominal"},"y":{"field":"hi","type":"quantitative"}}},
  {"data":{"name":"hash"},"transform":[{"filter":"datum.p=='MYLK2'"}],"mark":{"type":"rule","strokeWidth":2},"encoding":{"x":{"field":"g","type":"nominal","bandPosition":0.67},"x2":{"field":"g2","bandPosition":0.61},"y":{"field":"m","type":"quantitative"}}},
  {"data":{"name":"hash"},"transform":[{"filter":"datum.p=='MYLK2'"}],"mark":{"type":"text","text":"#","fontSize":13,"fontWeight":"bold","baseline":"alphabetic","dy":-2},"encoding":{"x":{"field":"g2","type":"nominal","bandPosition":0.08},"y":{"field":"m","type":"quantitative"}}},
  {"data":{"name":"labels"},"transform":[{"filter":"datum.p=='MYLK2'"}],"mark":{"type":"text","align":"left","baseline":"top","fontSize":14,"fontWeight":"bold","dx":7,"dy":5},"encoding":{"x":{"field":"g","type":"nominal","bandPosition":0},"y":{"field":"m","type":"quantitative"},"text":{"field":"name"}}}
 ]
},
{"width":53,"height":10,"data":{"values":[{}]},"mark":{"type":"point","opacity":0},"encoding":{},"view":{"stroke":null}},
{
 "width": 160, "height": 186,
 "layer": [
  {"data":{"name":"bars"},"transform":[{"filter":"datum.p=='MYBPC2'"}],"mark":{"type":"bar","stroke":"black","strokeWidth":2},"encoding":{"x":{"field":"g","type":"nominal","scale":{"domain":["3d WT","3d KO"],"paddingInner":0,"paddingOuter":0},"axis":{"title":null,"labelPadding":0}},"xOffset":{"field":"d","type":"nominal","scale":{"domain":["-DEN","+DEN"],"paddingInner":0,"paddingOuter":0.8}},"y":{"field":"m","type":"quantitative","scale":{"domain":[0,50000],"nice":false},"axis":{"title":null,"labelFontSize":12,"labelOverlap":false,"tickCount":20,"values":[0,10000,20000,30000,40000,50000],"format":"d"}},"fill":{"field":"d","type":"nominal","scale":{"domain":["-DEN","+DEN"],"range":["white","black"]},"legend":null}}},
  {"data":{"name":"bars"},"transform":[{"filter":"datum.p=='MYBPC2'"}],"mark":{"type":"rule","strokeWidth":2},"encoding":{"x":{"field":"g","type":"nominal"},"xOffset":{"field":"d","type":"nominal"},"y":{"field":"m","type":"quantitative"},"y2":{"field":"hi"}}},
  {"data":{"name":"bars"},"transform":[{"filter":"datum.p=='MYBPC2'"}],"mark":{"type":"tick","size":9,"thickness":2},"encoding":{"x":{"field":"g","type":"nominal"},"xOffset":{"field":"d","type":"nominal"},"y":{"field":"hi","type":"quantitative"}}},
  {"data":{"name":"bars"},"transform":[{"filter":"datum.p=='MYBPC2' && datum.s=='*'"}],"mark":{"type":"text","text":"*","fontSize":24,"fontWeight":"bold","baseline":"alphabetic","dy":5},"encoding":{"x":{"field":"g","type":"nominal"},"xOffset":{"field":"d","type":"nominal"},"y":{"field":"hi","type":"quantitative"}}},
  {"data":{"name":"hash"},"transform":[{"filter":"datum.p=='MYBPC2'"}],"mark":{"type":"rule","strokeWidth":2},"encoding":{"x":{"field":"g","type":"nominal","bandPosition":0.66},"x2":{"field":"g2","bandPosition":0.62},"y":{"field":"m","type":"quantitative"}}},
  {"data":{"name":"hash"},"transform":[{"filter":"datum.p=='MYBPC2'"}],"mark":{"type":"text","text":"#","fontSize":13,"fontWeight":"bold","baseline":"alphabetic","dy":-2},"encoding":{"x":{"field":"g2","type":"nominal","bandPosition":0.08},"y":{"field":"m","type":"quantitative"}}},
  {"data":{"name":"labels"},"transform":[{"filter":"datum.p=='MYBPC2'"}],"mark":{"type":"text","align":"left","baseline":"top","fontSize":14,"fontWeight":"bold","dx":8,"dy":5},"encoding":{"x":{"field":"g","type":"nominal","bandPosition":0},"y":{"field":"m","type":"quantitative"},"text":{"field":"name"}}}
 ]
},
{"width":47,"height":10,"data":{"values":[{}]},"mark":{"type":"point","opacity":0},"encoding":{},"view":{"stroke":null}},
{
 "width": 160, "height": 186,
 "layer": [
  {"data":{"name":"bars"},"transform":[{"filter":"datum.p=='ACTN2'"}],"mark":{"type":"bar","stroke":"black","strokeWidth":2},"encoding":{"x":{"field":"g","type":"nominal","scale":{"domain":["3d WT","3d KO"],"paddingInner":0,"paddingOuter":0},"axis":{"title":null,"labelPadding":0}},"xOffset":{"field":"d","type":"nominal","scale":{"domain":["-DEN","+DEN"],"paddingInner":0,"paddingOuter":0.8}},"y":{"field":"m","type":"quantitative","scale":{"domain":[0,35000],"nice":false},"axis":{"title":null,"labelFontSize":12,"labelOverlap":false,"tickCount":20,"values":[0,5000,10000,15000,20000,25000,30000,35000],"format":"d"}},"fill":{"field":"d","type":"nominal","scale":{"domain":["-DEN","+DEN"],"range":["white","black"]},"legend":null}}},
  {"data":{"name":"bars"},"transform":[{"filter":"datum.p=='ACTN2'"}],"mark":{"type":"rule","strokeWidth":2},"encoding":{"x":{"field":"g","type":"nominal"},"xOffset":{"field":"d","type":"nominal"},"y":{"field":"m","type":"quantitative"},"y2":{"field":"hi"}}},
  {"data":{"name":"bars"},"transform":[{"filter":"datum.p=='ACTN2'"}],"mark":{"type":"tick","size":9,"thickness":2},"encoding":{"x":{"field":"g","type":"nominal"},"xOffset":{"field":"d","type":"nominal"},"y":{"field":"hi","type":"quantitative"}}},
  {"data":{"name":"bars"},"transform":[{"filter":"datum.p=='ACTN2' && datum.s=='*'"}],"mark":{"type":"text","text":"*","fontSize":24,"fontWeight":"bold","baseline":"alphabetic","dy":5},"encoding":{"x":{"field":"g","type":"nominal"},"xOffset":{"field":"d","type":"nominal"},"y":{"field":"hi","type":"quantitative"}}},
  {"data":{"name":"hash"},"transform":[{"filter":"datum.p=='ACTN2'"}],"mark":{"type":"rule","strokeWidth":2},"encoding":{"x":{"field":"g","type":"nominal","bandPosition":0.67},"x2":{"field":"g2","bandPosition":0.65},"y":{"field":"m","type":"quantitative"}}},
  {"data":{"name":"hash"},"transform":[{"filter":"datum.p=='ACTN2'"}],"mark":{"type":"text","text":"#","fontSize":13,"fontWeight":"bold","baseline":"alphabetic","dy":-2},"encoding":{"x":{"field":"g2","type":"nominal","bandPosition":0.08},"y":{"field":"m","type":"quantitative"}}},
  {"data":{"name":"labels"},"transform":[{"filter":"datum.p=='ACTN2'"}],"mark":{"type":"text","align":"left","baseline":"top","fontSize":14,"fontWeight":"bold","dx":8,"dy":5},"encoding":{"x":{"field":"g","type":"nominal","bandPosition":0},"y":{"field":"m","type":"quantitative"},"text":{"field":"name"}}}
 ]
}
]
}
]
}
]
}
